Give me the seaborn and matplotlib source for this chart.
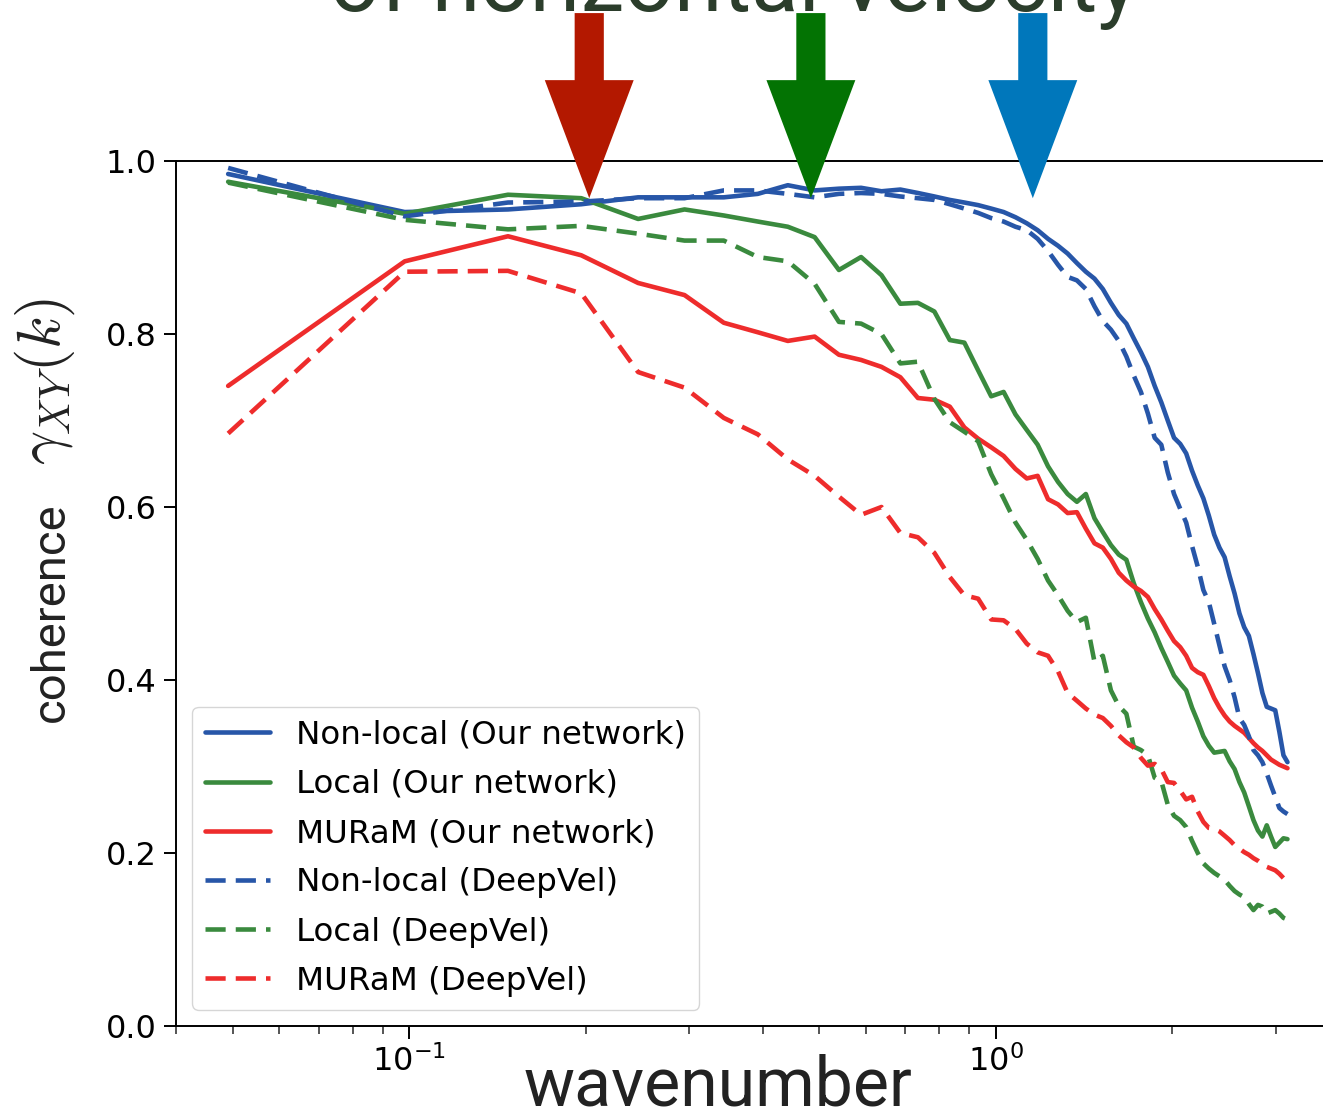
import numpy as np
import pandas as pd
import matplotlib
matplotlib.use('Agg')
import matplotlib.pyplot as plt
import seaborn as sns

# wavenumber grid: k = n * pi / 64, n = 1..64
mode_index = np.arange(1, 65)
wavenumber = mode_index * np.pi / 64

nonlocal_ours = [0.985, 0.941, 0.944, 0.950, 0.958, 0.958, 0.958, 0.962, 0.972, 0.966,
                 0.968, 0.969, 0.965, 0.967, 0.963, 0.959, 0.955, 0.952, 0.949, 0.945,
                 0.941, 0.935, 0.928, 0.920, 0.910, 0.902, 0.893, 0.882, 0.872, 0.864,
                 0.852, 0.836, 0.822, 0.812, 0.795, 0.779, 0.762, 0.740, 0.721, 0.700,
                 0.680, 0.673, 0.662, 0.642, 0.625, 0.610, 0.590, 0.568, 0.553, 0.542,
                 0.520, 0.500, 0.477, 0.461, 0.451, 0.430, 0.408, 0.385, 0.369, 0.367,
                 0.365, 0.340, 0.313, 0.305]
local_ours = [0.976, 0.939, 0.961, 0.957, 0.933, 0.944, 0.937, 0.930, 0.924, 0.912,
              0.874, 0.889, 0.868, 0.835, 0.836, 0.826, 0.793, 0.790, 0.758, 0.728,
              0.733, 0.707, 0.689, 0.672, 0.647, 0.629, 0.615, 0.606, 0.615, 0.587,
              0.571, 0.556, 0.545, 0.539, 0.512, 0.490, 0.471, 0.455, 0.437, 0.421,
              0.405, 0.396, 0.388, 0.368, 0.352, 0.335, 0.324, 0.316, 0.317, 0.318,
              0.306, 0.297, 0.282, 0.270, 0.254, 0.238, 0.226, 0.219, 0.232, 0.219,
              0.207, 0.212, 0.217, 0.216]
muram_ours = [0.740, 0.884, 0.913, 0.891, 0.859, 0.845, 0.813, 0.802, 0.792, 0.797,
              0.776, 0.770, 0.762, 0.750, 0.726, 0.724, 0.716, 0.692, 0.679, 0.669,
              0.659, 0.644, 0.633, 0.636, 0.609, 0.603, 0.593, 0.594, 0.575, 0.558,
              0.553, 0.540, 0.524, 0.515, 0.508, 0.503, 0.496, 0.482, 0.470, 0.457,
              0.445, 0.438, 0.428, 0.414, 0.409, 0.406, 0.393, 0.379, 0.368, 0.359,
              0.352, 0.347, 0.343, 0.339, 0.333, 0.327, 0.322, 0.318, 0.313, 0.308,
              0.305, 0.302, 0.300, 0.298]
nonlocal_deepvel = [0.992, 0.936, 0.952, 0.953, 0.957, 0.957, 0.966, 0.966, 0.962, 0.958,
                    0.962, 0.963, 0.962, 0.959, 0.957, 0.955, 0.950, 0.945, 0.940, 0.934,
                    0.930, 0.924, 0.920, 0.910, 0.896, 0.880, 0.866, 0.862, 0.852, 0.832,
                    0.815, 0.805, 0.792, 0.774, 0.752, 0.733, 0.708, 0.680, 0.672, 0.640,
                    0.615, 0.598, 0.582, 0.555, 0.531, 0.504, 0.490, 0.465, 0.440, 0.416,
                    0.400, 0.380, 0.356, 0.348, 0.335, 0.319, 0.313, 0.305, 0.292, 0.278,
                    0.265, 0.252, 0.248, 0.245]
local_deepvel = [0.975, 0.932, 0.921, 0.925, 0.916, 0.908, 0.908, 0.889, 0.884, 0.858,
                 0.814, 0.812, 0.800, 0.766, 0.768, 0.725, 0.698, 0.687, 0.676, 0.638,
                 0.610, 0.582, 0.562, 0.540, 0.515, 0.498, 0.480, 0.467, 0.472, 0.421,
                 0.428, 0.388, 0.370, 0.361, 0.323, 0.319, 0.313, 0.287, 0.283, 0.256,
                 0.243, 0.238, 0.230, 0.214, 0.200, 0.188, 0.182, 0.177, 0.173, 0.169,
                 0.162, 0.156, 0.152, 0.149, 0.141, 0.134, 0.140, 0.138, 0.130, 0.132,
                 0.134, 0.130, 0.125, 0.123]
muram_deepvel = [0.685, 0.872, 0.873, 0.847, 0.756, 0.738, 0.703, 0.684, 0.655, 0.636,
                 0.612, 0.591, 0.600, 0.570, 0.565, 0.547, 0.519, 0.498, 0.494, 0.470,
                 0.469, 0.459, 0.442, 0.432, 0.428, 0.410, 0.385, 0.376, 0.367, 0.360,
                 0.356, 0.347, 0.336, 0.328, 0.322, 0.310, 0.301, 0.303, 0.297, 0.282,
                 0.281, 0.272, 0.262, 0.265, 0.248, 0.236, 0.229, 0.228, 0.225, 0.220,
                 0.215, 0.209, 0.205, 0.201, 0.198, 0.194, 0.191, 0.187, 0.184, 0.182,
                 0.180, 0.176, 0.171, 0.168]

series_labels = ['Non-local (Our network)', 'Local (Our network)', 'MURaM (Our network)',
                 'Non-local (DeepVel)', 'Local (DeepVel)', 'MURaM (DeepVel)']
series_values = [nonlocal_ours, local_ours, muram_ours,
                 nonlocal_deepvel, local_deepvel, muram_deepvel]

# arrows marking the resolved wavenumber of each case
arrow_k = [0.2026, 0.4837, 1.156]
arrow_colors = ['#b31800', '#037303', '#0077bb']

blue, green, red = '#2756a8', '#3a8a3e', '#ee2c2c'
series_colors = [blue, green, red, blue, green, red]
series_styles = ['-', '-', '-', '--', '--', '--']

sns.set_style('ticks')
plt.rcParams['lines.dashed_pattern'] = [4.4, 2.2]
plt.rcParams['font.family'] = ['DejaVu Sans']
plt.rcParams['text.color'] = 'black'

fig = plt.figure(figsize=(13.23, 11.11), dpi=100)
ax = fig.add_axes([176 / 1323, 85 / 1111, 1173 / 1323, 865 / 1111])

for lab, vals, col, ls in zip(series_labels, series_values, series_colors, series_styles):
    sns.lineplot(x=wavenumber, y=vals, color=col, linestyle=ls, linewidth=3.3,
                 label=lab, ax=ax)

ax.set_xscale('log')
ax.set_xlim(0.04, 4.0)
ax.set_ylim(0, 1.0)
ax.set_yticks([0.0, 0.2, 0.4, 0.6, 0.8, 1.0])
ax.set_xlabel('')
ax.set_ylabel('')

for side in ['left', 'bottom', 'top', 'right']:
    ax.spines[side].set_visible(True)
    ax.spines[side].set_color('black')
    ax.spines[side].set_linewidth(1.4)

ax.tick_params(axis='both', which='major', direction='out', length=9, width=1.4,
               labelsize=23, pad=5, colors='black')
ax.tick_params(axis='x', which='minor', direction='out', length=5.5, width=1.1)
ax.tick_params(axis='y', which='minor', left=False)

leg = ax.legend(loc='lower left', fontsize=23.4, labelspacing=0.56)
for t in leg.get_texts():
    t.set_color('black')

for k, col in zip(arrow_k, arrow_colors):
    ax.annotate('', xy=(k, 0.957), xytext=(k, 1.171), xycoords='data',
                annotation_clip=False,
                arrowprops=dict(arrowstyle='simple,head_length=85,head_width=64,tail_width=21',
                                mutation_scale=1, color=col, lw=0,
                                shrinkA=0, shrinkB=0))

fig.text(734 / 1323, 1 - 11 / 1111, 'of horizontal velocity', ha='center', va='baseline',
         fontsize=63, family='Roboto', color='#2b3d2b')
fig.text(718 / 1323, 5 / 1111, 'wavenumber', ha='center', va='baseline',
         fontsize=49, family='Roboto', color='#222222')
fig.text(64 / 1323, 1 - 612 / 1111, 'coherence', rotation=90, rotation_mode='anchor',
         ha='center', va='baseline', fontsize=34, family='Roboto', color='#222222')
fig.text(60 / 1323, 1 - 381 / 1111, r'$\gamma_{XY}(k)$', rotation=90, rotation_mode='anchor',
         ha='center', va='baseline', fontsize=43, math_fontfamily='cm', color='#222222')

fig.savefig('out.png', dpi=100)
